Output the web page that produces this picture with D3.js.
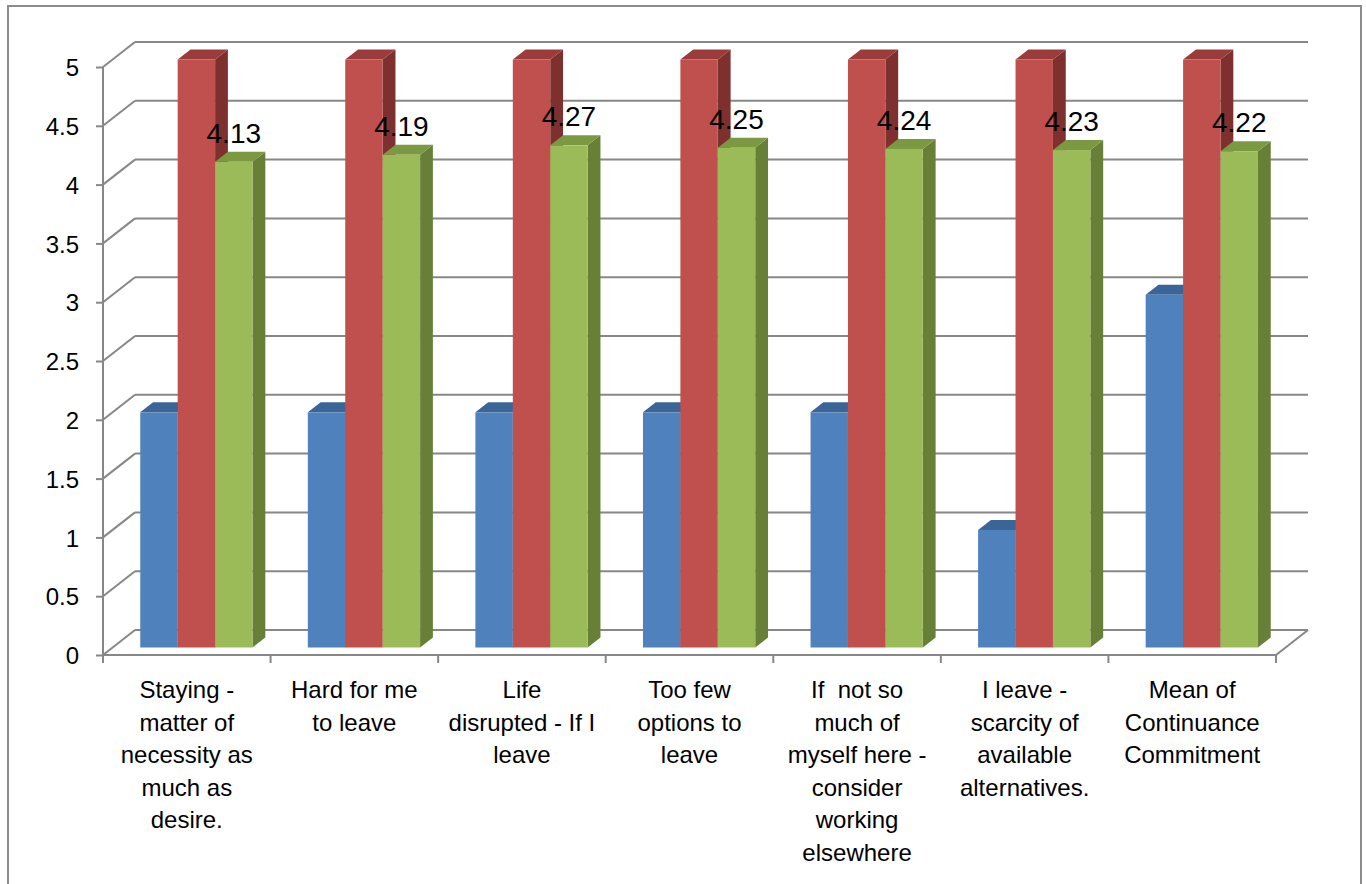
<!DOCTYPE html>
<html>
<head>
<meta charset="utf-8">
<script src="https://cdn.jsdelivr.net/npm/d3@7"></script>
<style>
html,body{margin:0;padding:0;background:#fff;}
svg{display:block;}
text{font-family:"Liberation Sans",Arial,sans-serif;fill:#000;white-space:pre;}
</style>
</head>
<body>
<svg id="chart" width="1366" height="884"></svg>
<script>
// ---- data ----
const categories = [
  "Staying - matter of necessity as much as desire.",
  "Hard for me to leave",
  "Life disrupted - If I leave",
  "Too few options to leave",
  "If  not so much of myself here - consider working elsewhere",
  "I leave - scarcity of available alternatives.",
  "Mean of Continuance Commitment"
];
const categoryLines = [
  ["Staying -", "matter of", "necessity as", "much as", "desire."],
  ["Hard for me", "to leave"],
  ["Life", "disrupted - If I", "leave"],
  ["Too few", "options to", "leave"],
  ["If  not so", "much of", "myself here -", "consider", "working", "elsewhere"],
  ["I leave -", "scarcity of", "available", "alternatives."],
  ["Mean of", "Continuance", "Commitment"]
];
const seriesNames = ["Series1", "Series2", "Series3"];
const series1 = [2, 2, 2, 2, 2, 1, 3];
const series2 = [5, 5, 5, 5, 5, 5, 5];
const series3 = [4.13, 4.19, 4.27, 4.25, 4.24, 4.23, 4.22];
const series3Labels = ["4.13", "4.19", "4.27", "4.25", "4.24", "4.23", "4.22"];
const yTicks = [0, 0.5, 1, 1.5, 2, 2.5, 3, 3.5, 4, 4.5, 5];
const yTickLabels = ["0", "0.5", "1", "1.5", "2", "2.5", "3", "3.5", "4", "4.5", "5"];

(function () {
// ---- styling ----
const colors = {
  Series1: {front: "#4F81BD", top: "#3B6596", side: "#35598A"},
  Series2: {front: "#C0504D", top: "#9A3D3A", side: "#7D302E"},
  Series3: {front: "#9BBB59", top: "#7A9940", side: "#687F38"}
};
const gridColor = "#878787";

const svg = d3.select("#chart");

// outer border
svg.append("rect").attr("x", 8).attr("y", 6).attr("width", 1353).attr("height", 900)
  .attr("fill", "none").attr("stroke", "#8c8c8c").attr("stroke-width", 2);

const pLeft = 103, pRight = 1276, pBottom = 655, pTop = 67;
const depthX = 32, depthY = -25;

const y = d3.scaleLinear().domain([0, 5]).range([pBottom, pTop]);
const x = d3.scaleBand().domain(categories).range([pLeft, pRight]);
const xs = d3.scaleBand().domain(seriesNames).range([0, x.bandwidth() * 0.67]);

const g = svg.append("g");

// back wall gridlines
g.selectAll("line.grid").data(yTicks).join("line").attr("class", "grid")
  .attr("x1", pLeft + depthX).attr("x2", pRight + depthX)
  .attr("y1", d => y(d) + depthY).attr("y2", d => y(d) + depthY)
  .attr("stroke", gridColor).attr("stroke-width", 2);

// side wall diagonals
g.selectAll("line.diag").data(yTicks).join("line").attr("class", "diag")
  .attr("x1", pLeft).attr("x2", pLeft + depthX)
  .attr("y1", d => y(d)).attr("y2", d => y(d) + depthY)
  .attr("stroke", gridColor).attr("stroke-width", 2);

// floor right diagonal
g.append("line").attr("x1", pRight).attr("y1", y(0)).attr("x2", pRight + depthX).attr("y2", y(0) + depthY)
  .attr("stroke", gridColor).attr("stroke-width", 2);

// y axis
const yAxis = d3.axisLeft(y).tickValues(yTicks).tickSize(7).tickPadding(17)
  .tickFormat((d, i) => yTickLabels[i]);
const ya = svg.append("g").attr("transform", `translate(${pLeft},0)`).call(yAxis);
ya.select(".domain").attr("stroke", gridColor).attr("stroke-width", 2).attr("d", `M0,${pBottom}V${pTop}`);
ya.selectAll(".tick line").attr("stroke", gridColor).attr("stroke-width", 2);
ya.selectAll(".tick text").attr("font-family", '"Liberation Sans", Arial, sans-serif')
  .attr("font-size", 24).attr("fill", "#000").attr("dy", "0.36em");

// x axis front line + ticks
svg.append("line").attr("x1", pLeft).attr("x2", pRight).attr("y1", pBottom).attr("y2", pBottom)
  .attr("stroke", gridColor).attr("stroke-width", 2);
const boundaries = categories.map(c => x(c)).concat([pRight]);
svg.selectAll("line.xt").data(boundaries).join("line").attr("class", "xt")
  .attr("x1", d => d).attr("x2", d => d).attr("y1", pBottom).attr("y2", pBottom + 8)
  .attr("stroke", gridColor).attr("stroke-width", 2);

// bars
const fFront = 0.3, fBack = 0.7;
const offX = depthX * fFront, offY = depthY * fFront;
const bdx = depthX * (fBack - fFront), bdy = depthY * (fBack - fFront);
const groupOffset = (x.bandwidth() - xs.range()[1]) / 2;

const barData = [];
categories.forEach((c, i) => {
  [series1, series2, series3].forEach((s, j) => {
    barData.push({cat: c, i, series: seriesNames[j], value: s[i]});
  });
});

const bars = svg.append("g").selectAll("g.bar").data(barData).join("g").attr("class", "bar");
bars.each(function(d) {
  const el = d3.select(this);
  const x0 = x(d.cat) + groupOffset + xs(d.series) + offX;
  const w = xs.bandwidth();
  const y0 = y(0) + offY;
  const y1 = y(d.value) + offY;
  const c = colors[d.series];
  el.append("path")
    .attr("d", `M${x0 + w},${y1}L${x0 + w + bdx},${y1 + bdy}L${x0 + w + bdx},${y0 + bdy}L${x0 + w},${y0}Z`)
    .attr("fill", c.side);
  el.append("path")
    .attr("d", `M${x0},${y1}L${x0 + bdx},${y1 + bdy}L${x0 + w + bdx},${y1 + bdy}L${x0 + w},${y1}Z`)
    .attr("fill", c.top);
  el.append("rect").attr("x", x0).attr("y", y1).attr("width", w).attr("height", y0 - y1)
    .attr("fill", c.front);
});

// data labels for series 3
svg.append("g").selectAll("text").data(series3).join("text")
  .attr("x", (d, i) => x(categories[i]) + groupOffset + xs("Series3") + offX + xs.bandwidth() / 2)
  .attr("y", (d, i) => y(d) + offY - 19)
  .attr("text-anchor", "middle").attr("font-size", 28)
  .text((d, i) => series3Labels[i]);

// category labels
const cl = svg.append("g").selectAll("text").data(categories).join("text")
  .attr("text-anchor", "middle").attr("font-size", 24)
  .attr("x", c => x(c) + x.bandwidth() / 2).attr("y", 698);
cl.each(function(c, i) {
  const t = d3.select(this);
  categoryLines[i].forEach((line, k) => {
    t.append("tspan").attr("x", x(c) + x.bandwidth() / 2).attr("y", 698 + k * 32.6).text(line);
  });
});
})();
</script>
</body>
</html>
